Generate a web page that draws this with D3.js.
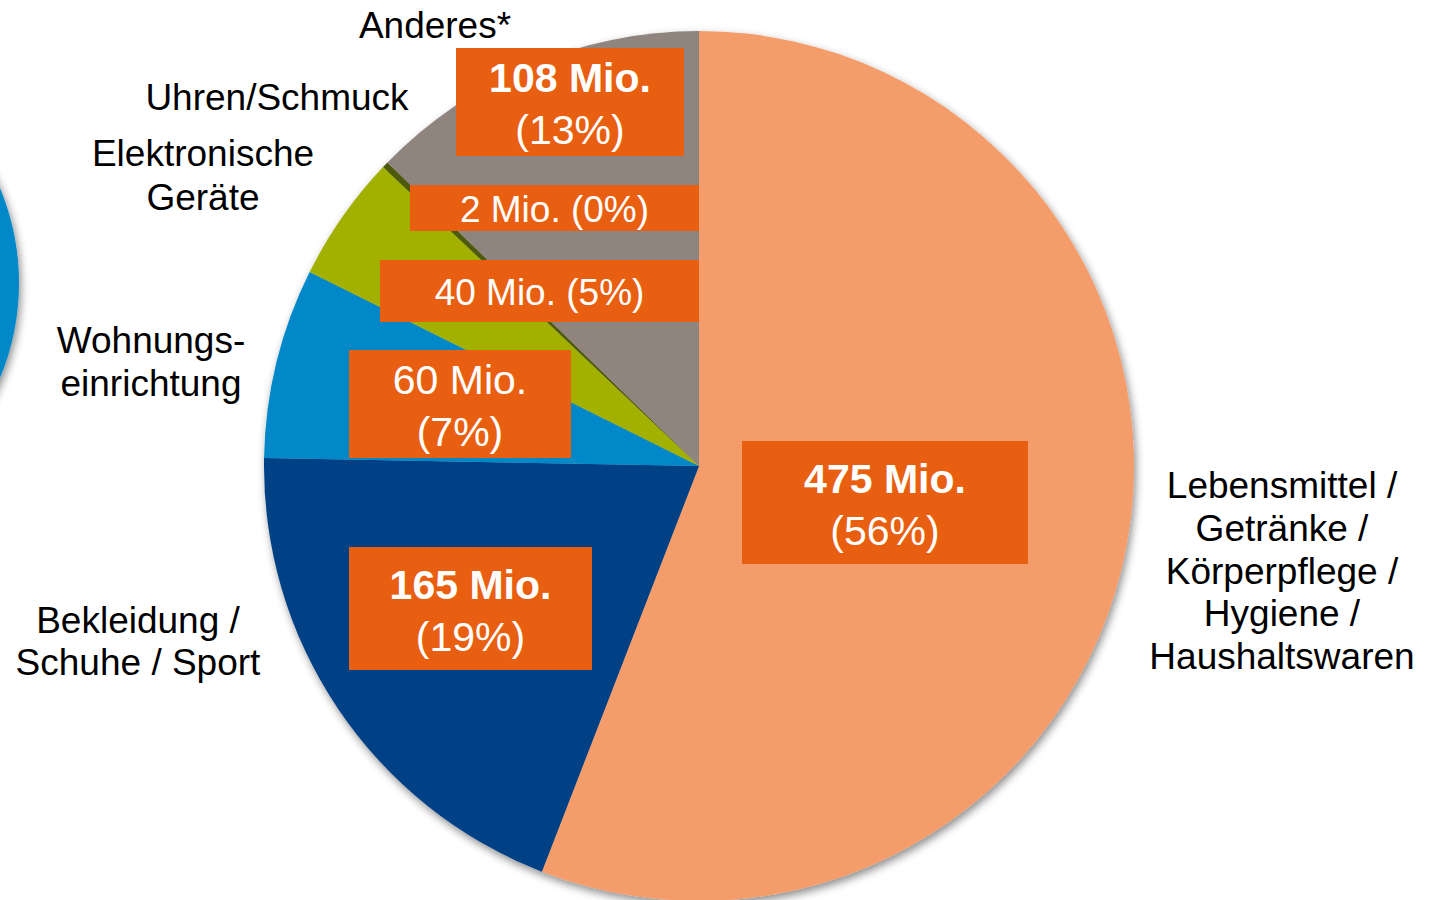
<!DOCTYPE html>
<html>
<head>
<meta charset="utf-8">
<script src="https://cdn.jsdelivr.net/npm/d3@7"></script>
<style>
html,body{margin:0;padding:0;background:#fff;overflow:hidden}
svg{display:block;font-family:"Liberation Sans",Arial,sans-serif}
</style>
</head>
<body>
<svg id="chart" width="1431" height="900"></svg>
<script>
// ---- data ----
const categories = ["Lebensmittel / Getränke / Körperpflege / Hygiene / Haushaltswaren",
  "Bekleidung / Schuhe / Sport", "Wohnungseinrichtung", "Elektronische Geräte",
  "Uhren/Schmuck", "Anderes*"];
const values = [475, 165, 60, 40, 2, 108];
const categoryLabelLines = [
  ["Lebensmittel /", "Getränke /", "Körperpflege /", "Hygiene /", "Haushaltswaren"],
  ["Bekleidung /", "Schuhe / Sport"],
  ["Wohnungs-", "einrichtung"],
  ["Elektronische", "Geräte"],
  ["Uhren/Schmuck"],
  ["Anderes*"]
];
const unit = "Mio.";

// ---- layout / styles (kept separate from data) ----
const colors = ["#F49D6B", "#003F85", "#0088C8", "#A2B004", "#4E5A0E", "#90847F"];
const boxLayout = [
  {x0:742,y0:441,x1:1028,y1:564,two:true,bold:true,fs:41},
  {x0:349,y0:547,x1:592,y1:670,two:true,bold:true,fs:41},
  {x0:349,y0:350,x1:571,y1:458,two:true,bold:false,fs:41},
  {x0:380,y0:260,x1:699,y1:322,two:false,bold:false,fs:37},
  {x0:410,y0:185,x1:699,y1:231,two:false,bold:false,fs:37},
  {x0:456,y0:48,x1:684,y1:156,two:true,bold:true,fs:41}
];
const catLayout = [
  {x:1282,y:485,dy:42.8},
  {x:138,y:620,dy:42},
  {x:151,y:340,dy:43},
  {x:203,y:153,dy:44},
  {x:277,y:97,dy:43},
  {x:435,y:25,dy:43}
];

const W = 1431, H = 900;
const cx = 699, cy = 466, R = 435;
const svg = d3.select("#chart");

const defs = svg.append("defs");
const f = defs.append("filter").attr("id","shadow").attr("x","-20%").attr("y","-20%").attr("width","140%").attr("height","140%");
f.append("feDropShadow").attr("dx",2).attr("dy",4).attr("stdDeviation",4).attr("flood-color","#000").attr("flood-opacity",0.45);

// decorative partial circle at left edge
svg.append("circle").attr("cx",-228).attr("cy",283).attr("r",247)
  .attr("fill","#0088C8").attr("filter","url(#shadow)");

const total = d3.sum(values);
const pie = d3.pie().sort(null).value(d => d)(values);
const arc = d3.arc().innerRadius(0).outerRadius(R);

const g = svg.append("g").attr("transform",`translate(${cx},${cy})`);
const slices = g.append("g").attr("filter","url(#shadow)");
slices.selectAll("path").data(pie).join("path")
  .attr("d", arc)
  .attr("fill", (d,i) => colors[i]);

// value boxes
const boxes = svg.append("g");
values.forEach((v,i) => {
  const b = boxLayout[i];
  const pct = `(${Math.round(v/total*100)}%)`;
  const lbl = `${v} ${unit}`;
  boxes.append("rect").attr("x",b.x0).attr("y",b.y0).attr("width",b.x1-b.x0).attr("height",b.y1-b.y0)
    .attr("fill","#E95F11");
  const mx = (b.x0+b.x1)/2;
  const my = (b.y0+b.y1)/2;
  if (b.two) {
    boxes.append("text").attr("x",mx).attr("y",my-24+b.fs*0.35).attr("text-anchor","middle")
      .attr("fill","#fff").attr("font-size",b.fs).attr("font-weight",b.bold?"bold":"normal").text(lbl);
    boxes.append("text").attr("x",mx).attr("y",my+28+b.fs*0.35).attr("text-anchor","middle")
      .attr("fill","#fff").attr("font-size",b.fs).text(pct);
  } else {
    boxes.append("text").attr("x",mx).attr("y",my+1+b.fs*0.35).attr("text-anchor","middle")
      .attr("fill","#fff").attr("font-size",b.fs).text(`${lbl} ${pct}`);
  }
});

// category labels
const cats = svg.append("g");
categoryLabelLines.forEach((lines,i) => {
  const c = catLayout[i];
  lines.forEach((ln,j) => {
    cats.append("text").attr("x",c.x).attr("y",c.y + j*c.dy + 37*0.35)
      .attr("text-anchor","middle").attr("font-size",37).attr("fill","#000").text(ln);
  });
});
</script>
</body>
</html>
